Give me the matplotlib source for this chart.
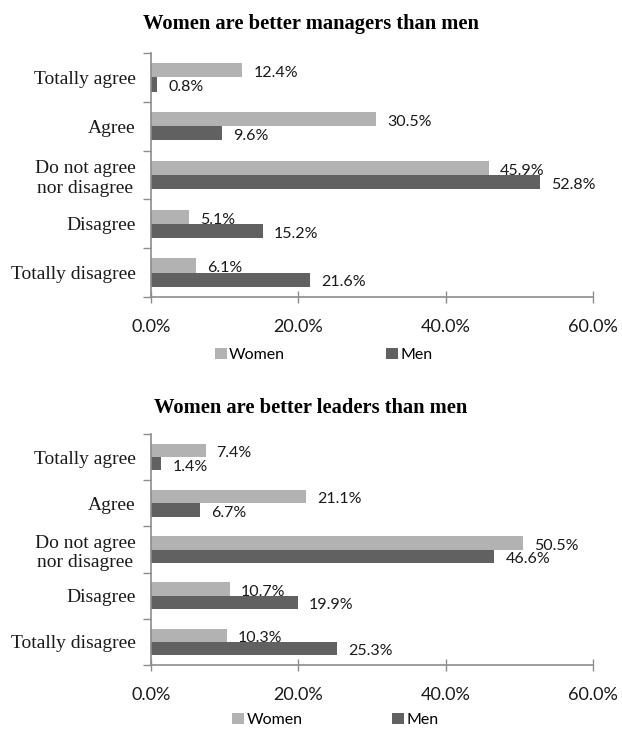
import matplotlib
matplotlib.use("Agg")
import matplotlib.pyplot as plt
from matplotlib.patches import Patch
from matplotlib.ticker import FuncFormatter

categories = ["Totally agree", "Agree", "Do not agree\nnor disagree", "Disagree", "Totally disagree"]
series_names = ["Women", "Men"]

managers_women = [12.4, 30.5, 45.9, 5.1, 6.1]
managers_men = [0.8, 9.6, 52.8, 15.2, 21.6]
leaders_women = [7.4, 21.1, 50.5, 10.7, 10.3]
leaders_men = [1.4, 6.7, 46.6, 19.9, 25.3]

titles = ["Women are better managers than men", "Women are better leaders than men"]
x_ticks = [0, 20, 40, 60]

color_women = "#b2b2b2"
color_men = "#616161"
axis_color = "#8c8c8c"

SERIF = "Liberation Serif"
SANS = "Lato"

fig = plt.figure(figsize=(6.22, 7.31), dpi=100)

# axes rectangles in figure fractions
rects = [
    [151 / 622, 1 - 297 / 731, 442 / 622, 244 / 731],
    [151 / 622, 1 - 665 / 731, 442 / 622, 231 / 731],
]
title_y = [1 - 24 / 731, 1 - 408 / 731]
legend_anchor = [(0.52, 1 - 355 / 731), (0.539, 1 - 720 / 731)]
legend_spacing = [6.3, 5.6]

panels = [(managers_women, managers_men), (leaders_women, leaders_men)]
bar_h = 0.29

for k, (rect, (women, men)) in enumerate(zip(rects, panels)):
    ax = fig.add_axes(rect)
    pos = list(range(len(categories)))
    ax.barh([p - bar_h / 2 for p in pos], women, height=bar_h, color=color_women)
    ax.barh([p + bar_h / 2 for p in pos], men, height=bar_h, color=color_men)

    for p, w, m in zip(pos, women, men):
        ax.annotate(f"{w:.1f}%", (w, p - bar_h / 2), xytext=(8, -2), textcoords="offset points",
                    ha="left", va="center", fontsize=11.5, family=SANS, color="#1a1a1a")
        ax.annotate(f"{m:.1f}%", (m, p + bar_h / 2), xytext=(8, -2), textcoords="offset points",
                    ha="left", va="center", fontsize=11.5, family=SANS, color="#1a1a1a")

    ax.set_xlim(0, 60)
    ax.set_ylim(len(categories) - 0.5, -0.5)
    ax.set_xticks(x_ticks)
    ax.xaxis.set_major_formatter(FuncFormatter(lambda v, _: f"{v:.1f}%"))
    for lbl in ax.get_xticklabels():
        lbl.set_family(SANS)
    ax.tick_params(axis="x", direction="inout", length=8, width=1, color=axis_color,
                   labelsize=13, pad=12, labelcolor="#1a1a1a")

    # category boundaries carry the y tick marks, labels sit between them
    ax.set_yticks([p - 0.5 for p in pos] + [len(categories) - 0.5])
    ax.set_yticklabels([])
    ax.set_yticks(pos, minor=True)
    ax.set_yticklabels(categories, minor=True, family=SERIF, fontsize=14,
                       ha="right", multialignment="center")
    ax.tick_params(axis="y", which="major", direction="out", length=6, width=1, color=axis_color)
    ax.tick_params(axis="y", which="minor", length=0, pad=11, labelcolor="#1a1a1a")

    for side in ("top", "right"):
        ax.spines[side].set_visible(False)
    for side in ("left", "bottom"):
        ax.spines[side].set_color(axis_color)
        ax.spines[side].set_linewidth(1.2)

    fig.text(0.5, title_y[k], titles[k], ha="center", va="center",
             family=SERIF, fontweight="bold", fontsize=14.8)

    handles = [Patch(facecolor=color_women, edgecolor="none"),
               Patch(facecolor=color_men, edgecolor="none")]
    fig.legend(handles, series_names, loc="center", bbox_to_anchor=legend_anchor[k],
               ncol=2, frameon=False, prop={"family": SANS, "size": 11.5},
               handlelength=0.75, handleheight=0.75, handletextpad=0.15,
               columnspacing=legend_spacing[k])

fig.savefig("out.png", dpi=100)
